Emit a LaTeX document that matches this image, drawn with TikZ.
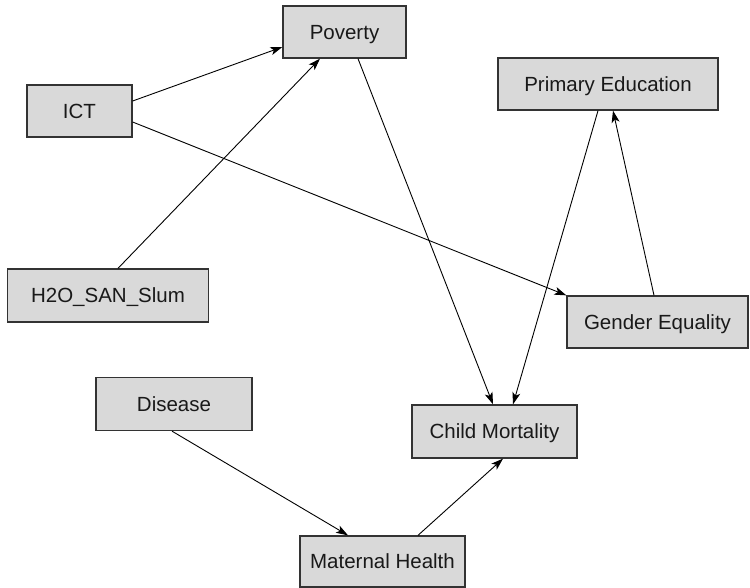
\documentclass[tikz,border=0pt]{standalone}
\usepackage{fontspec}
\setmainfont{Liberation Sans}
\usetikzlibrary{arrows.meta,calc}
\definecolor{boxfill}{HTML}{D9D9D9}
\definecolor{boxline}{HTML}{333333}
\begin{document}
\begin{tikzpicture}[x=1bp,y=-1bp,
  box/.style={draw=boxline,fill=boxfill,line width=1.3bp,inner sep=0pt,
    text height=15.5bp,text depth=1bp,
    font=\fontsize{20.5bp}{23bp}\selectfont,text=black!90},
  conn/.style={line width=0.9bp,-{Stealth[length=12bp,width=8bp,inset=3bp]}}]
\useasboundingbox (0,0) rectangle (750,588);
\node[box,minimum width=123bp,minimum height=52bp] (pov) at (344.5,32) {Poverty};
\node[box,minimum width=105bp,minimum height=52bp] (ict) at (79.5,111) {ICT};
\node[box,minimum width=220bp,minimum height=52bp] (edu) at (608,84) {Primary Education};
\node[box,minimum width=201bp,minimum height=53bp] (h2o) at (108,295.5) {H2O\_SAN\_Slum};
\node[box,minimum width=181bp,minimum height=52bp] (ge) at (657.5,322) {Gender Equality};
\node[box,minimum width=156bp,minimum height=53bp] (dis) at (174,404) {Disease};
\node[box,minimum width=165bp,minimum height=53bp] (cm) at (494.5,431.5) {Child Mortality};
\node[box,minimum width=165bp,minimum height=51bp] (mh) at (382.5,561.5) {Maternal Health};
\draw[conn] ($(ict.east)+(0,-10)$) -- ($(pov.west)+(0,15)$);
\draw[conn] ($(ict.east)+(0,11)$) -- (ge.north west);
\draw[conn] ($(h2o.north)+(10,0)$) -- ($(pov.south)+(-24.5,0)$);
\draw[conn] ($(pov.south)+(13.5,0)$) -- ($(cm.north)+(-1.5,0)$);
\draw[conn] ($(edu.south)+(-10,0)$) -- ($(cm.north)+(18.5,0)$);
\draw[conn] ($(ge.north)+(-3.5,0)$) -- ($(edu.south)+(5,0)$);
\draw[conn] ($(dis.south)+(-2,0)$) -- ($(mh.north)+(-34.5,0)$);
\draw[conn] ($(mh.north)+(35.5,0)$) -- ($(cm.south)+(8.5,0)$);
\end{tikzpicture}
\end{document}
